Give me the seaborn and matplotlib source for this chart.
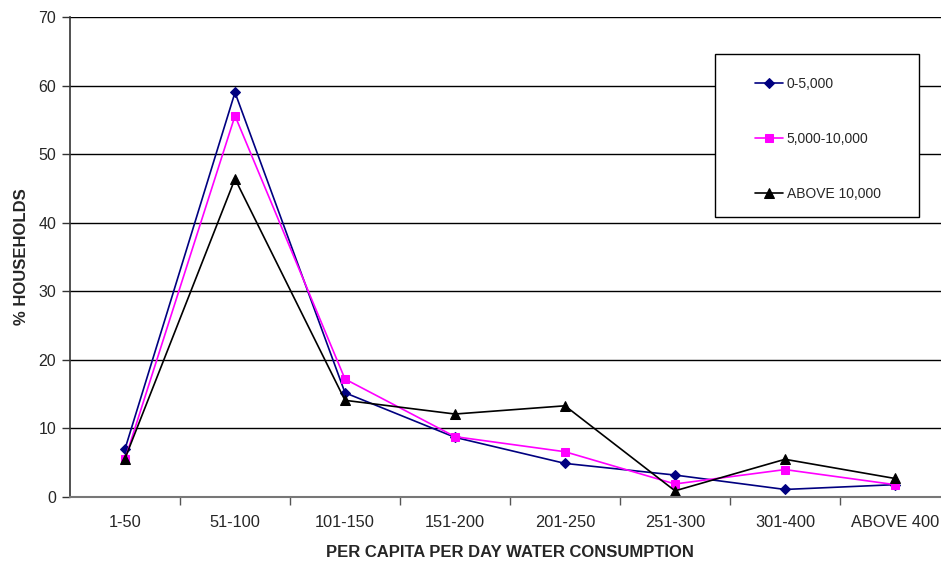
import matplotlib
matplotlib.use("Agg")
import matplotlib.pyplot as plt
from matplotlib.patches import Rectangle
import seaborn as sns
import pandas as pd

categories = ["1-50", "51-100", "101-150", "151-200", "201-250", "251-300", "301-400", "ABOVE 400"]
series_names = ["0-5,000", "5,000-10,000", "ABOVE 10,000"]
small_towns = [7.0, 59.0, 15.2, 8.7, 4.9, 3.2, 1.1, 1.8]
medium_towns = [5.5, 55.6, 17.2, 8.8, 6.6, 1.9, 4.0, 1.8]
large_towns = [5.6, 46.4, 14.1, 12.1, 13.3, 0.9, 5.5, 2.7]

values = [small_towns, medium_towns, large_towns]
rows = []
for name, vals in zip(series_names, values):
    for i, (cat, v) in enumerate(zip(categories, vals)):
        rows.append({"pos": i, "category": cat, "pct": v, "town": name})
df = pd.DataFrame(rows)

sns.set_style("white")
plt.rcParams["font.family"] = ["Liberation Sans", "DejaVu Sans"]

W, H = 941, 568
fig = plt.figure(figsize=(W / 100, H / 100), dpi=100)
# plot area in pixels: x 70..950, y 17..497
ax = fig.add_axes([70 / W, (H - 497) / H, 880 / W, 480 / H])

palette = {"0-5,000": "#000080", "5,000-10,000": "#FF00FF", "ABOVE 10,000": "#000000"}
markers = {"0-5,000": "D", "5,000-10,000": "s", "ABOVE 10,000": "^"}
sizes_ms = {"0-5,000": 5, "5,000-10,000": 6, "ABOVE 10,000": 7}

for name in series_names:
    sub = df[df["town"] == name]
    sns.lineplot(data=sub, x="pos", y="pct", ax=ax, color=palette[name],
                 marker=markers[name], markersize=sizes_ms[name],
                 markeredgecolor=palette[name], linewidth=1.2, label=name,
                 legend=False)

ax.set_xlim(-0.5, len(categories) - 0.5)
ax.set_ylim(0, 70)
ax.set_yticks(range(0, 71, 10))
ax.yaxis.grid(True, color="black", linewidth=1.0)
ax.set_axisbelow(True)

# category labels at centers, tick marks at category boundaries
ax.set_xticks([i + 0.5 for i in range(len(categories))])
ax.set_xticklabels([])
ax.set_xticks(range(len(categories)), minor=True)
ax.set_xticklabels(categories, minor=True)
ax.tick_params(axis="x", which="major", direction="out", length=6, width=1, color="#555555", bottom=True)
ax.tick_params(axis="x", which="minor", length=0, pad=13, labelsize=11.8)
ax.tick_params(axis="y", direction="out", length=6, width=1, color="#333333", left=True, labelsize=11.5, pad=4)

for s in ["top", "right"]:
    ax.spines[s].set_visible(False)
ax.spines["left"].set_color("#333333")
ax.spines["bottom"].set_color("#777777")
ax.spines["left"].set_linewidth(1.2)
ax.spines["bottom"].set_linewidth(1.5)

ax.set_xlabel("PER CAPITA PER DAY WATER CONSUMPTION", fontweight="bold", fontsize=12, labelpad=11)
ax.set_ylabel("% HOUSEHOLDS", fontweight="bold", fontsize=12, labelpad=7)

# legend with a separate rectangular frame
frame = Rectangle((715 / W, 1 - 217 / H), (919 - 715) / W, (217 - 54) / H,
                  transform=fig.transFigure, facecolor="white", edgecolor="black",
                  linewidth=1.0, zorder=5)
fig.patches.append(frame)
handles, labels = ax.get_legend_handles_labels()
leg = fig.legend(handles, labels, loc="upper left",
                 bbox_to_anchor=(748 / W, 1 - 70 / H), frameon=False,
                 fontsize=10, handlelength=2.0, handletextpad=0.3,
                 labelspacing=2.95, borderpad=0)
leg.set_zorder(6)

fig.savefig("out.png", dpi=100)
